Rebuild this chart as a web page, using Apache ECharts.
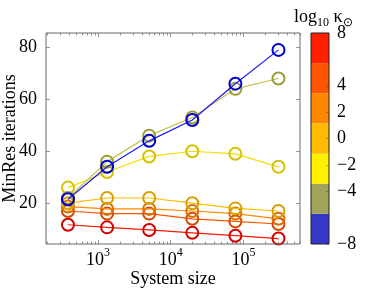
<!DOCTYPE html>
<html><head><meta charset="utf-8">
<script src="https://cdn.jsdelivr.net/npm/echarts@6/dist/echarts.min.js"></script>
<style>html,body{margin:0;padding:0;background:#fff}#c{width:365px;height:291px}</style>
</head><body><div id="c"></div>
<script>
// ---- data ----
const systemSizes = [385, 1330, 5050, 19800, 77600, 304000];
const seriesNames = ['band 1', 'band 2', 'band 3', 'band 4', 'band 5', 'band 6', 'band 7'];
const itersBand1 = [11.7, 10.7, 9.7, 8.6, 7.5, 6.4];   // red
const itersBand2 = [17, 16, 16, 14, 13, 12];            // dark orange
const itersBand3 = [18.7, 17.8, 17.8, 17, 16, 14];      // orange
const itersBand4 = [20, 22, 22, 20, 18, 17];            // light orange
const itersBand5 = [26, 32, 38, 40, 39, 34];            // yellow
const itersBand6 = [22, 36, 46, 53, 64, 68];            // olive
const itersBand7 = [21.5, 34, 44, 52, 66, 79];          // blue
const xMajorTicks = [1e3, 1e4, 1e5];
const yTicks = [20, 40, 60, 80];
const colorbarTicks = [-8, -4, -2, 0, 2, 4, 8];
const colorbarRange = [-8, 8];
const bandColors = ['#ff2000', '#ff5500', '#ff8800', '#ffbb00', '#fff000', '#a3a35c', '#3636c9']; // top→bottom

// ---- styles ----
const lineColors = ['#ff1a00', '#ff5500', '#ff8800', '#ffbb00', '#f2e000', '#c4c04a', '#1a1aff'];
const markerColors = ['#d40000', '#d44a00', '#dd7000', '#d9a000', '#d2c200', '#9c9c34', '#0000cc'];
const FONT = 'Liberation Serif';
const xMin = 2.283, xMax = 5.779, yMin = 4.3, yMax = 85.5;
const G = {left: 46, top: 33, width: 254, height: 211, containLabel: false, outerBoundsMode: 'none'};

const allIters = [itersBand1, itersBand2, itersBand3, itersBand4, itersBand5, itersBand6, itersBand7];
const lg = v => Math.log10(v);
const minorTicks = [];
for (let d = 2; d <= 5; d++) for (let k = 2; k <= 9; k++) {
  const v = Math.log10(k * Math.pow(10, d));
  if (v > xMin && v < xMax) minorTicks.push(v);
}
const tickStyle = {color: '#999', width: 1};
// colorbar axis runs 0..span; labels shifted back to the κ scale
const cbSpan = colorbarRange[1] - colorbarRange[0];
const toCb = v => v - colorbarRange[0];
const fmtCb = v => {
  const r = Math.round(v + colorbarRange[0]);
  return r < 0 ? '\u2212' + Math.abs(r) : String(r);
};

const chart = echarts.init(document.getElementById('c'), null, {renderer: 'canvas'});
const series = allIters.map((arr, i) => ({
  name: seriesNames[i], type: 'line', xAxisIndex: 0, yAxisIndex: 0,
  data: arr.map((y, j) => [lg(systemSizes[j]), y]),
  symbol: 'circle', symbolSize: 12,
  lineStyle: {color: lineColors[i], width: 1.2},
  itemStyle: {color: 'rgba(0,0,0,0)', borderColor: markerColors[i], borderWidth: 2},
  z: 3 + i, animation: false
}));
const band = cbSpan / bandColors.length;
bandColors.slice().reverse().forEach((c) => {
  series.push({type: 'bar', xAxisIndex: 4, yAxisIndex: 3, stack: 'cb', barWidth: '100%',
    data: [band], itemStyle: {color: c}, silent: true, animation: false});
});

chart.setOption({
  animation: false,
  backgroundColor: '#fff',
  textStyle: {fontFamily: FONT},
  title: {
    text: '{m|log}{s|10}{m| κ}{s|⊙}', left: 289, top: 0,
    textStyle: {fontWeight: 'normal', rich: {
      m: {fontFamily: FONT, fontSize: 18, fontWeight: 'normal', color: '#000', lineHeight: 24, verticalAlign: 'middle'},
      s: {fontFamily: FONT, fontSize: 12, fontWeight: 'normal', color: '#000', lineHeight: 11, verticalAlign: 'bottom'}
    }}
  },
  grid: [
    Object.assign({show: true, borderColor: '#666', borderWidth: 1, backgroundColor: 'transparent', z: 10}, G),
    Object.assign({show: false}, G),
    {left: 311, top: 33, width: 18, height: 211, containLabel: false, outerBoundsMode: 'none',
     show: true, borderColor: '#222', borderWidth: 1, backgroundColor: 'transparent', z: 10}
  ],
  xAxis: [
    {gridIndex: 0, type: 'value', position: 'bottom', min: xMin, max: xMax,
     axisLine: {show: false}, splitLine: {show: false},
     axisTick: {show: true, inside: true, length: 4, customValues: xMajorTicks.map(lg), lineStyle: tickStyle},
     axisLabel: {customValues: xMajorTicks.map(lg), margin: 3, color: '#000',
       formatter: v => '{b|10}{p|' + Math.round(v) + '}',
       rich: {b: {fontFamily: FONT, fontSize: 18, lineHeight: 22, verticalAlign: 'bottom', color: '#000'},
              p: {fontFamily: FONT, fontSize: 12, lineHeight: 12, verticalAlign: 'top', color: '#000'}}},
     name: 'System size', nameLocation: 'middle', nameGap: 26, nameMoveOverlap: false,
     nameTextStyle: {fontFamily: FONT, fontSize: 18, color: '#000'}},
    {gridIndex: 0, type: 'value', position: 'top', min: xMin, max: xMax,
     axisLine: {show: false}, splitLine: {show: false}, axisLabel: {show: false},
     axisTick: {show: true, inside: true, length: 4, customValues: xMajorTicks.map(lg), lineStyle: tickStyle}},
    {gridIndex: 1, type: 'value', position: 'bottom', min: xMin, max: xMax,
     axisLine: {show: false}, splitLine: {show: false}, axisLabel: {show: false},
     axisTick: {show: true, inside: true, length: 2.5, customValues: minorTicks, lineStyle: tickStyle}},
    {gridIndex: 1, type: 'value', position: 'top', min: xMin, max: xMax,
     axisLine: {show: false}, splitLine: {show: false}, axisLabel: {show: false},
     axisTick: {show: true, inside: true, length: 2.5, customValues: minorTicks, lineStyle: tickStyle}},
    {gridIndex: 2, type: 'category', data: ['cb'], show: false}
  ],
  yAxis: [
    {gridIndex: 0, type: 'value', position: 'left', min: yMin, max: yMax,
     axisLine: {show: false}, splitLine: {show: false},
     axisTick: {show: true, inside: true, length: 4, customValues: yTicks, lineStyle: tickStyle},
     axisLabel: {customValues: yTicks, margin: 9, color: '#000', fontFamily: FONT, fontSize: 18},
     name: 'MinRes iterations', nameLocation: 'middle', nameGap: 27, nameRotate: 90, nameMoveOverlap: false,
     nameTextStyle: {fontFamily: FONT, fontSize: 18, color: '#000'}},
    {gridIndex: 0, type: 'value', position: 'right', min: yMin, max: yMax,
     axisLine: {show: false}, splitLine: {show: false}, axisLabel: {show: false},
     axisTick: {show: true, inside: true, length: 4, customValues: yTicks, lineStyle: tickStyle}},
    {gridIndex: 1, type: 'value', min: yMin, max: yMax, show: false},
    {gridIndex: 2, type: 'value', position: 'right', min: 0, max: cbSpan,
     axisLine: {show: false}, splitLine: {show: false}, z: 12,
     axisTick: {show: true, inside: true, length: 3, customValues: colorbarTicks.map(toCb), lineStyle: {color: 'rgba(0,0,0,0.25)'}},
     axisLabel: {customValues: colorbarTicks.map(toCb), margin: 8, color: '#000', fontFamily: FONT, fontSize: 18, formatter: fmtCb}}
  ],
  series: series
});
</script></body></html>
